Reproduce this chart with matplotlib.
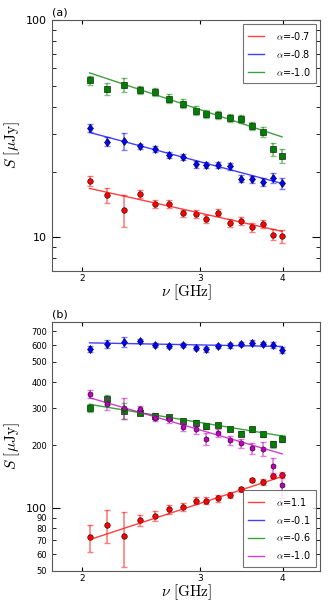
import matplotlib
matplotlib.use("Agg")
import matplotlib.pyplot as plt
from matplotlib.ticker import FixedLocator, FuncFormatter, NullFormatter, NullLocator, LogLocator

plt.rcParams['mathtext.fontset'] = 'cm'

# observing frequencies [GHz]
freq = [2.05, 2.18, 2.31, 2.44, 2.57, 2.70, 2.83, 2.96, 3.07, 3.20, 3.33, 3.46, 3.59, 3.73, 3.86, 3.99]

# panel (a)
a_red = [18.2, 15.6, 13.4, 15.8, 14.2, 14.2, 12.9, 12.8, 12.2, 13.0, 11.6, 11.9, 11.1, 11.5, 10.3, 10.1]
a_red_err = [1.0, 1.2, 2.2, 0.7, 0.6, 0.6, 0.5, 0.5, 0.5, 0.5, 0.5, 0.5, 0.5, 0.5, 0.6, 0.7]
a_blue = [31.9, 27.6, 27.8, 26.2, 25.5, 24.0, 23.5, 21.7, 21.6, 21.5, 21.2, 18.6, 18.5, 18.0, 18.8, 17.7]
a_blue_err = [1.2, 1.4, 2.5, 0.8, 0.8, 0.8, 0.7, 0.8, 0.7, 0.7, 0.7, 0.7, 0.7, 0.8, 1.0, 1.0]
a_green = [52.9, 48.4, 50.4, 47.9, 46.6, 43.5, 41.2, 38.3, 37.1, 36.7, 35.5, 35.0, 32.5, 30.6, 25.4, 23.7]
a_green_err = [2.5, 3.0, 3.8, 2.0, 2.0, 2.0, 2.0, 1.8, 1.6, 1.6, 1.5, 1.4, 1.4, 1.5, 1.8, 1.8]
# fitted power laws, value at first and last frequency
a_fits = [([16.8, 10.65], 'r', r'$\alpha$=-0.7'),
          ([30.4, 17.7], 'b', r'$\alpha$=-0.8'),
          ([57.2, 29.0], 'g', r'$\alpha$=-1.0')]

# panel (b)
b_red = [72.4, 83.3, 73.8, 87.3, 91.9, 98.5, 101.4, 108.3, 108.3, 111.1, 115.7, 122.7, 136.4, 133.0, 142.6, 143.7]
b_red_err = [10.6, 15, 21.5, 5.5, 5, 5, 4.5, 4, 4, 4, 3.5, 3.5, 3.5, 4, 4, 5]
b_blue = [574, 611, 623, 630, 603, 594, 603, 583, 574, 594, 600, 609, 618, 609, 600, 570]
b_blue_err = [18, 28, 35, 15, 15, 15, 15, 15, 15, 15, 15, 15, 15, 15, 20, 20]
b_green = [300.6, 330.8, 291.9, 285.6, 275.4, 271.5, 259.8, 255.9, 246.7, 249.5, 238.8, 226.8, 237.9, 225.3, 201.8, 214.7]
b_green_err = [12, 15, 25, 8, 8, 8, 7, 7, 7, 6, 6, 6, 6, 6, 8, 8]
b_mag = [350.6, 314.2, 300.6, 296.5, 270.3, 265.6, 244.8, 238.8, 214.7, 229.3, 211.0, 204.1, 193.2, 192.3, 159.1, 129.1]
b_mag_err = [15, 20, 35, 10, 10, 10, 12, 12, 14, 10, 10, 10, 12, 15, 15, 17]
b_fits = [([70.6, 141.5], 'r', r'$\alpha$=1.1'),
          ([616, 592], 'b', r'$\alpha$=-0.1'),
          ([313, 221], 'g', r'$\alpha$=-0.6'),
          ([336.7, 181.5], 'm', r'$\alpha$=-1.0')]

fig = plt.figure(figsize=(3.29, 6.11), dpi=100)
ax1 = fig.add_axes([0.158, 0.5565, 0.815, 0.4105])
ax2 = fig.add_axes([0.158, 0.0655, 0.815, 0.4075])

def points(ax, y, err, col, mk, ms):
	ax.errorbar(freq, y, yerr=err, fmt='none', ecolor=col, alpha=0.5, capsize=2, elinewidth=1.2)
	ax.plot(freq, y, mk, color=col, mec='k', mew=0.4, ms=ms, ls='none')

def fits(ax, lst):
	for ends, col, lab in lst:
		ax.plot([freq[0], freq[-1]], ends, '-', color=col, alpha=0.75, lw=1, label=lab)

points(ax1, a_red, a_red_err, 'r', 'o', 4)
points(ax1, a_blue, a_blue_err, 'b', 'd', 4.5)
points(ax1, a_green, a_green_err, (0, 0.5, 0), 's', 4)
fits(ax1, a_fits)

points(ax2, b_red, b_red_err, 'r', 'o', 4)
points(ax2, b_blue, b_blue_err, 'b', 'd', 4.5)
points(ax2, b_green, b_green_err, (0, 0.5, 0), 's', 4)
points(ax2, b_mag, b_mag_err, 'm', 'h', 4)
fits(ax2, b_fits)

for ax in [ax1, ax2]:
	ax.set_xscale('log')
	ax.set_yscale('log')
	ax.set_xlim(1.8, 4.55)
	ax.xaxis.set_major_locator(FixedLocator([2, 3, 4]))
	ax.xaxis.set_major_formatter(FuncFormatter(lambda v, p: '%d' % v))
	ax.xaxis.set_minor_locator(NullLocator())
	ax.tick_params(which='both', direction='in', top=True, right=True)
	ax.tick_params(axis='x', which='major', labelsize=6.5, length=3, pad=2.5)
	ax.tick_params(axis='y', which='major', labelsize=8, length=6)
	ax.tick_params(axis='y', which='minor', labelsize=6, length=3)
	ax.set_xlabel(r'$\nu\ [\mathrm{GHz}]$', fontsize=11, labelpad=-1)
	ax.set_ylabel(r'$S\ [\mu\mathrm{Jy}]$', fontsize=11, labelpad=3)
	for s in ax.spines.values():
		s.set_color('0.35')

ax1.set_ylim(7, 100)
ax1.yaxis.set_major_locator(FixedLocator([10, 100]))
ax1.yaxis.set_major_formatter(FuncFormatter(lambda v, p: '%d' % v))
ax1.yaxis.set_minor_locator(LogLocator(base=10, subs=range(2, 10)))
ax1.yaxis.set_minor_formatter(NullFormatter())

ax2.set_ylim(50, 775)
ax2.yaxis.set_major_locator(FixedLocator([100]))
ax2.yaxis.set_major_formatter(FuncFormatter(lambda v, p: '%d' % v))
ax2.yaxis.set_minor_locator(FixedLocator([50, 60, 70, 80, 90, 200, 300, 400, 500, 600, 700]))
ax2.yaxis.set_minor_formatter(FuncFormatter(lambda v, p: '%d' % v))

leg_kw = dict(fontsize=7, handlelength=1.6, handletextpad=1.2, labelspacing=0.6,
              fancybox=False, edgecolor='0.3', borderaxespad=0.4, borderpad=0.6)
l1 = ax1.legend(loc='upper right', **leg_kw)
l2 = ax2.legend(loc='lower right', **leg_kw)
for l in [l1, l2]:
	l.get_frame().set_linewidth(0.8)

ax1.text(0.0, 1.01, '(a)', transform=ax1.transAxes, fontsize=8, va='bottom')
ax2.text(0.0, 1.01, '(b)', transform=ax2.transAxes, fontsize=8, va='bottom')

plt.savefig('out.png', dpi=100)
